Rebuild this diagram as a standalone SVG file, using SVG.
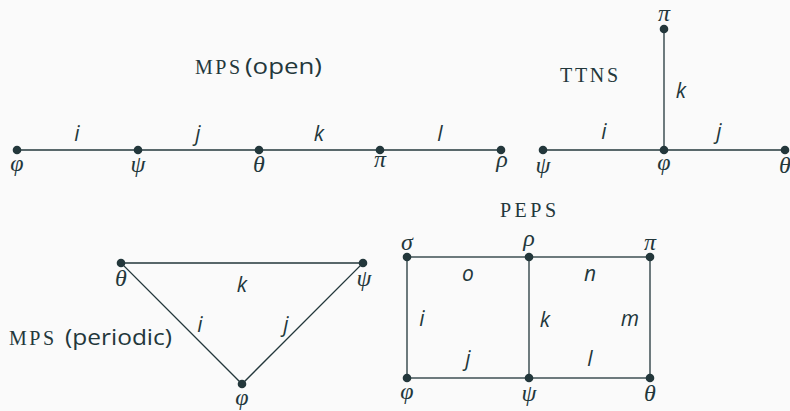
<svg xmlns="http://www.w3.org/2000/svg" width="790" height="411" viewBox="0 0 790 411">
<style>
.bg{fill:#fafafa}
.e{stroke:#23373b;stroke-width:1.3;fill:none}
.n{fill:#23373b}
.g{font-family:"Liberation Serif","DejaVu Serif",serif;font-style:italic;font-size:24px;fill:#23373b;text-anchor:middle}
.l{font-family:"Open Sans","Liberation Sans",sans-serif;font-style:italic;font-size:21px;fill:#23373b;text-anchor:middle}
.sc{font-family:"Liberation Serif","DejaVu Serif",serif;font-size:20px;fill:#23373b}
.t{font-family:"Open Sans","Liberation Sans",sans-serif;font-size:22px;fill:#23373b}
</style>
<rect class="bg" width="790" height="411"/>
<g id="connectors">
<line class="e" x1="17" y1="150" x2="501" y2="150"/>
<line class="e" x1="543" y1="150" x2="785" y2="150"/>
<line class="e" x1="664" y1="29" x2="664" y2="150"/>
<path class="e" d="M121 263 L363 263 L242 384 Z"/>
<rect class="e" x="407" y="257" width="243" height="121"/>
<line class="e" x1="529" y1="257" x2="529" y2="378"/>
</g>
<g id="edge-labels">
<text class="l" x="77" y="141">i</text>
<text class="l" x="198" y="141">j</text>
<text class="l" x="319" y="141">k</text>
<text class="l" x="440" y="141">l</text>
<text class="l" x="604" y="139">i</text>
<text class="l" x="719" y="139">j</text>
<text class="l" x="681" y="98">k</text>
<text class="l" x="242" y="292">k</text>
<text class="l" x="200" y="332">i</text>
<text class="l" x="286" y="332">j</text>
<text class="l" x="468" y="281">o</text>
<text class="l" x="590" y="281">n</text>
<text class="l" x="422" y="326">i</text>
<text class="l" x="545" y="327">k</text>
<text class="l" x="630" y="326">m</text>
<text class="l" x="468" y="366">j</text>
<text class="l" x="590" y="366">l</text>
</g>
<g id="titles">
<text class="sc" x="195" y="74" textLength="45" lengthAdjust="spacing">MPS</text>
<text class="t" x="245" y="74" textLength="77" lengthAdjust="spacingAndGlyphs">(open)</text>
<text class="sc" x="560" y="82" textLength="58" lengthAdjust="spacing">TTNS</text>
<text class="sc" x="500" y="217" textLength="56" lengthAdjust="spacing">PEPS</text>
<text class="sc" x="9" y="345" textLength="45" lengthAdjust="spacing">MPS</text>
<text class="t" x="65" y="345" textLength="107" lengthAdjust="spacingAndGlyphs">(periodic)</text>
</g>
<g id="mps-phi"><circle class="n" cx="17" cy="150" r="4.3"/><text class="g" x="17" y="171">φ</text></g>
<g id="mps-psi"><circle class="n" cx="138" cy="150" r="4.3"/><text class="g" x="138" y="172">ψ</text></g>
<g id="mps-theta"><circle class="n" cx="259" cy="150" r="4.3"/><text class="g" x="259" y="172">θ</text></g>
<g id="mps-pi"><circle class="n" cx="380" cy="150" r="4.3"/><text class="g" x="380" y="167">π</text></g>
<g id="mps-rho"><circle class="n" cx="501" cy="150" r="4.3"/><text class="g" x="502" y="167">ρ</text></g>
<g id="ttns-psi"><circle class="n" cx="543" cy="150" r="4.3"/><text class="g" x="543" y="173">ψ</text></g>
<g id="ttns-phi"><circle class="n" cx="664" cy="150" r="4.3"/><text class="g" x="664" y="170">φ</text></g>
<g id="ttns-theta"><circle class="n" cx="785" cy="150" r="4.3"/><text class="g" x="785" y="173">θ</text></g>
<g id="ttns-pi"><circle class="n" cx="664" cy="29" r="4.3"/><text class="g" x="664" y="21" font-size="22">π</text></g>
<g id="tri-theta"><circle class="n" cx="121" cy="263" r="4.3"/><text class="g" x="121" y="286">θ</text></g>
<g id="tri-psi"><circle class="n" cx="363" cy="263" r="4.3"/><text class="g" x="364" y="286">ψ</text></g>
<g id="tri-phi"><circle class="n" cx="242" cy="384" r="4.3"/><text class="g" x="242" y="405">φ</text></g>
<g id="peps-sigma"><circle class="n" cx="407" cy="257" r="4.3"/><text class="g" x="407" y="250">σ</text></g>
<g id="peps-rho"><circle class="n" cx="529" cy="257" r="4.3"/><text class="g" x="529" y="246">ρ</text></g>
<g id="peps-pi"><circle class="n" cx="650" cy="257" r="4.3"/><text class="g" x="650" y="250">π</text></g>
<g id="peps-phi"><circle class="n" cx="407" cy="378" r="4.3"/><text class="g" x="407" y="399">φ</text></g>
<g id="peps-psi"><circle class="n" cx="529" cy="378" r="4.3"/><text class="g" x="529" y="401">ψ</text></g>
<g id="peps-theta"><circle class="n" cx="650" cy="378" r="4.3"/><text class="g" x="650" y="401">θ</text></g>
</svg>
